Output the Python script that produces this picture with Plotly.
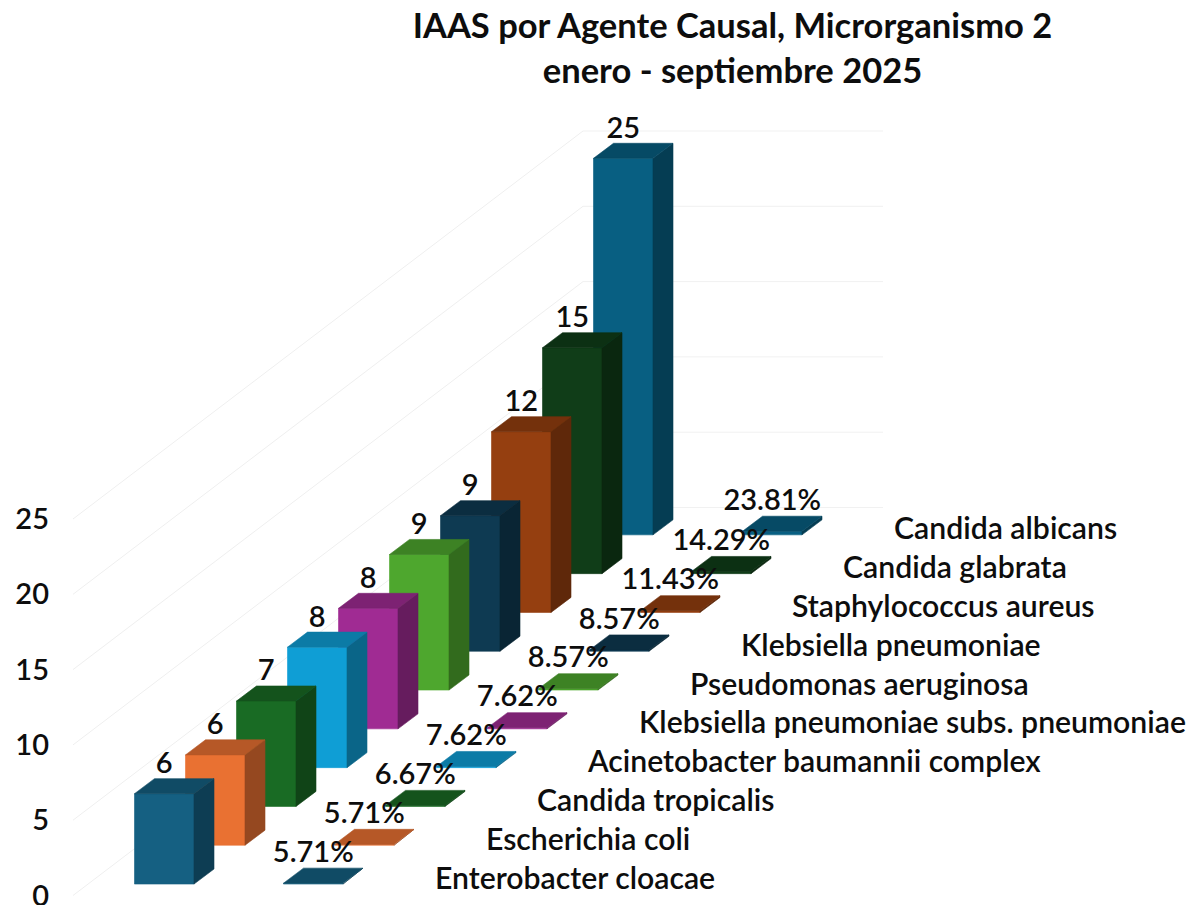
import plotly.graph_objects as go

# ---------- data ----------
categories = ["Enterobacter cloacae", "Escherichia coli", "Candida tropicalis",
              "Acinetobacter baumannii complex", "Klebsiella pneumoniae subs. pneumoniae",
              "Pseudomonas aeruginosa", "Klebsiella pneumoniae", "Staphylococcus aureus",
              "Candida glabrata", "Candida albicans"]
counts = [6, 6, 7, 8, 8, 9, 9, 12, 15, 25]
percents = [5.71, 5.71, 6.67, 7.62, 7.62, 8.57, 8.57, 11.43, 14.29, 23.81]
colors = ["#156082", "#E97132", "#196B24", "#0F9ED5", "#A02B93",
          "#4EA72E", "#0E3A52", "#953F10", "#103D18", "#085F82"]
y_ticks = [0, 5, 10, 15, 20, 25]
title_lines = ["IAAS por Agente Causal, Microrganismo 2", "enero - septiembre 2025"]

# ---------- oblique projection constants (axis units) ----------
STEP_Y = 38.8 / 15.06      # floor rise per category, in value units
BASE_Y = 0.76              # floor of the first category above the axis zero
BAR_W = 59.5 / 51          # front face width
DEPTH_X = 20 / 51
DEPTH_Y = 1.0
PLATE_X = 149 / 51         # second row of (nearly flat) bars
LABEL_X = 300.5 / 51       # category labels
LABEL_Y = 0.2
WALL_X = -61.5 / 51
GRID_END = 748.5 / 51
FONT = "Lato"
TXT = "#0d0d0d"


def shade(hex_color, k):
    r, g, b = (int(hex_color[i:i + 2], 16) for i in (1, 3, 5))
    return "#{:02x}{:02x}{:02x}".format(round(r * k), round(g * k), round(b * k))


fig = go.Figure()


def face(xs, ys, color):
    fig.add_trace(go.Scatter(x=xs + xs[:1], y=ys + ys[:1], mode="lines", fill="toself",
                             fillcolor=color, line=dict(color=color, width=0.6),
                             hoverinfo="skip", showlegend=False))


def bar(i, height, color, dx=0.0):
    x0 = i + dx
    x1 = x0 + BAR_W
    y0 = BASE_Y + i * STEP_Y
    y1 = y0 + height
    face([x0, x1, x1, x0], [y0, y0, y1, y1], color)
    face([x1, x1 + DEPTH_X, x1 + DEPTH_X, x1], [y0, y0 + DEPTH_Y, y1 + DEPTH_Y, y1], shade(color, 0.64))
    face([x0, x1, x1 + DEPTH_X, x0 + DEPTH_X], [y1, y1, y1 + DEPTH_Y, y1 + DEPTH_Y], shade(color, 0.78))


# back walls grid
for v in y_ticks:
    yb = v + 10 * STEP_Y
    fig.add_trace(go.Scatter(x=[WALL_X, WALL_X + 10], y=[v, yb], mode="lines",
                             line=dict(color="#efefef", width=1), hoverinfo="skip", showlegend=False))
    fig.add_trace(go.Scatter(x=[WALL_X + 10, GRID_END], y=[yb, yb], mode="lines",
                             line=dict(color="#f1f1f1", width=1), hoverinfo="skip", showlegend=False))

# bars, back to front
for i in range(len(counts) - 1, -1, -1):
    bar(i, percents[i] / 100, colors[i], dx=PLATE_X)
    bar(i, counts[i], colors[i])

# value labels
n = range(len(counts))
fig.add_trace(go.Scatter(
    x=[i + BAR_W / 2 for i in n],
    y=[BASE_Y + i * STEP_Y + counts[i] + DEPTH_Y + 0.85 for i in n],
    text=[str(c) for c in counts], mode="text", textposition="middle center",
    textfont=dict(family=FONT, size=29, color=TXT, weight=600), hoverinfo="skip", showlegend=False))
fig.add_trace(go.Scatter(
    x=[i + PLATE_X + BAR_W / 2 for i in n],
    y=[BASE_Y + i * STEP_Y + p / 100 + DEPTH_Y + 0.9 for i, p in enumerate(percents)],
    text=[f"{p:.2f}%" for p in percents], mode="text", textposition="middle center",
    textfont=dict(family=FONT, size=29, color=TXT, weight=600), hoverinfo="skip", showlegend=False))
fig.add_trace(go.Scatter(
    x=[i + LABEL_X for i in n],
    y=[BASE_Y + i * STEP_Y + LABEL_Y for i in n],
    text=categories, mode="text", textposition="middle right",
    textfont=dict(family=FONT, size=30.2, color=TXT, weight=600), hoverinfo="skip", showlegend=False))

W, H, ML, MB = 1197, 905, 50, 5
PX_X0, PX_XU = 134.5, 51.0
PX_Y0, PX_YU = 895.5, 15.06
fig.update_layout(
    width=W, height=H, margin=dict(l=ML, r=0, t=0, b=MB),
    paper_bgcolor="white", plot_bgcolor="white", showlegend=False,
    title=dict(text="<br>".join(title_lines),
               x=732.5 / W, xanchor="center", y=1 - 38 / H, yanchor="middle",
               font=dict(family=FONT, size=34.5, color=TXT, weight=700)),
    xaxis=dict(visible=False, automargin=False, range=[(ML - PX_X0) / PX_XU, (W - PX_X0) / PX_XU]),
    yaxis=dict(range=[(PX_Y0 - (H - MB)) / PX_YU, PX_Y0 / PX_YU], tickvals=y_ticks, ticks="",
               showgrid=False, zeroline=False, showline=False, ticklabeloverflow="allow",
               automargin=False,
               tickfont=dict(family=FONT, size=29, color=TXT, weight=600)),
)
fig.write_html("out.html", config=dict(displayModeBar=False),
               post_script="document.body.style.margin='0';")
